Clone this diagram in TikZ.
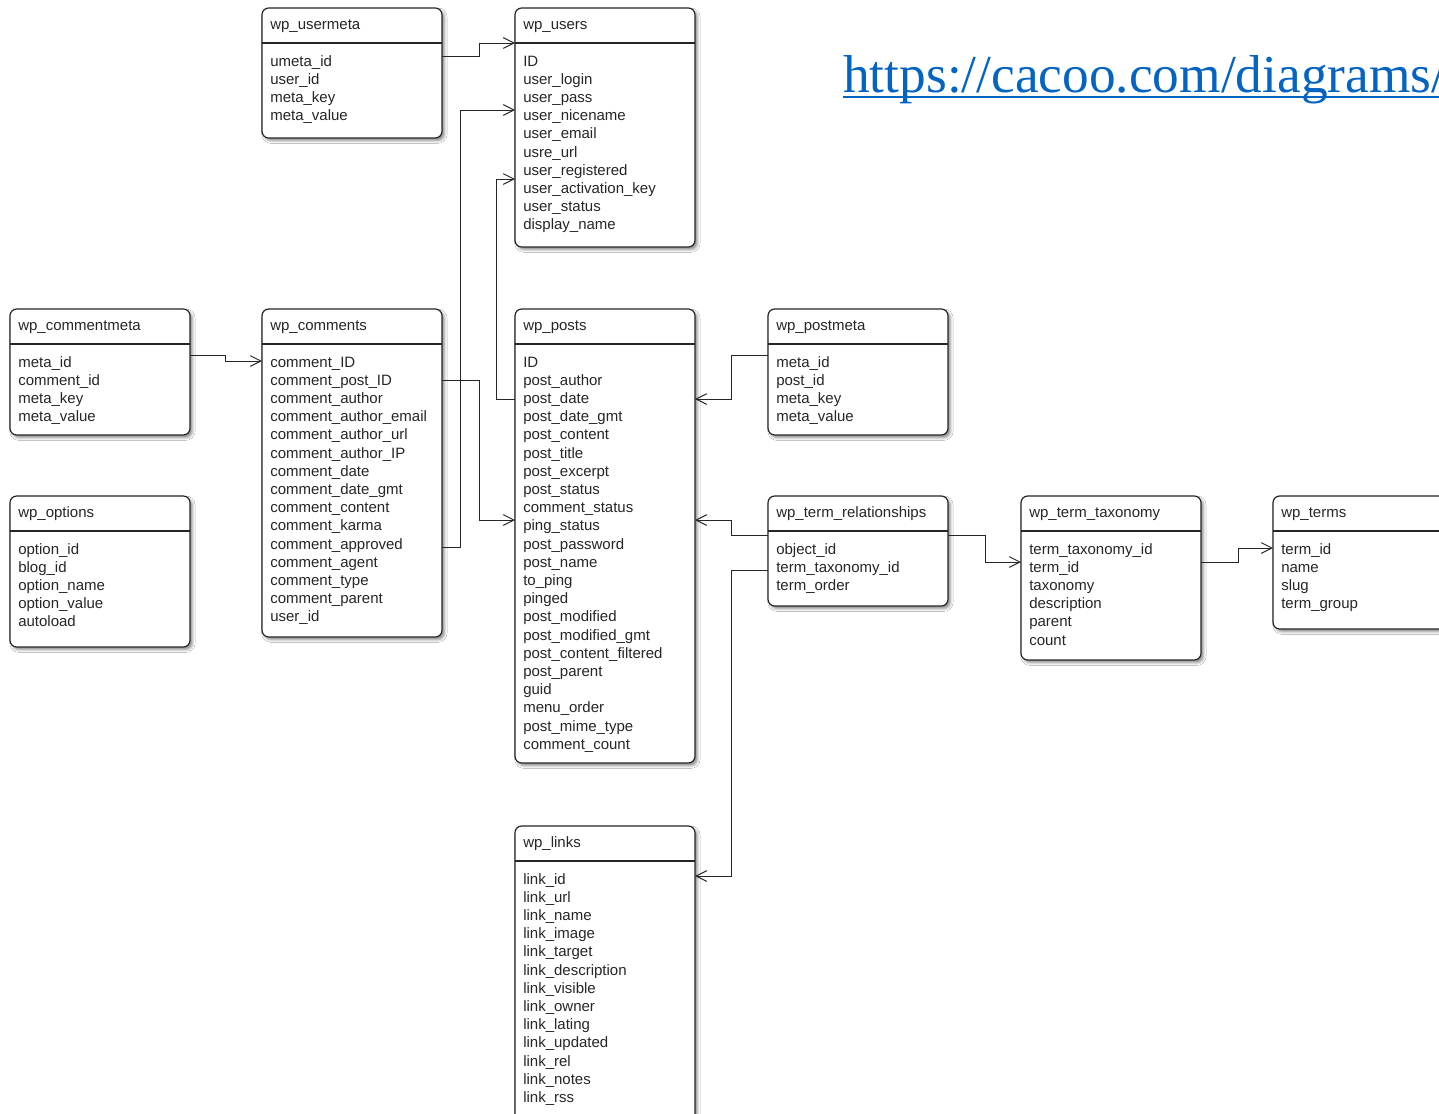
\documentclass[tikz,border=0pt]{standalone}
\usepackage{fontspec}
\setmainfont{Liberation Sans}
\newfontfamily\urlfont{Liberation Serif}
\usetikzlibrary{arrows.meta,shadows.blur}

\definecolor{linkblue}{RGB}{5,99,193}
\newcommand{\tblfont}{\fontsize{11.25pt}{13.65pt}\selectfont}

\tikzset{
  tbl/.style={draw=black!85, line width=0.9pt, rounded corners=5pt, fill=white,
    minimum width=135pt, anchor=north west, inner sep=0pt, outer sep=0pt,
    blur shadow={shadow xshift=1.8pt, shadow yshift=-2pt, shadow blur radius=2pt, shadow opacity=45}},
  tblline/.style={draw=black!85, line width=0.9pt},
  ttl/.style={anchor=base west, inner sep=0pt, font=\tblfont, text=black!85},
  field/.style={anchor=base west, inner sep=0pt, font=\tblfont, text=black!85},
  fk/.style={draw=black!85, line width=0.75pt, -{Straight Barb[length=8pt,width=8pt]}},
}

% name, x, y, height, title, fields
\newcommand{\dbtable}[6]{%
  \node[tbl, minimum height={#4*0.75pt}] (#1) at (#2,#3) {};
  \draw[tblline] (#1.west |- 0,{#3+35}) -- (#1.east |- 0,{#3+35});
  \node[ttl] (#1-title) at ({#2+8},{#3+21.5}) {#5};
  \foreach \f [count=\i] in {#6}
    \node[field] (#1-\i) at ({#2+8},{#3+58+18.2*(\i-1)}) {\f};
}

\begin{document}
\begin{tikzpicture}[x=0.75pt, y=-0.75pt]

\fill[white] (0,0) rectangle (1439,1114);
\useasboundingbox (0,0) rectangle (1439,1114);

% tables
\dbtable{usermeta}{262}{8}{130}{wp\_usermeta}{umeta\_id, user\_id, meta\_key, meta\_value}
\dbtable{users}{515}{8}{239}{wp\_users}{ID, user\_login, user\_pass, user\_nicename, user\_email, usre\_url, user\_registered, user\_activation\_key, user\_status, display\_name}
\dbtable{commentmeta}{10}{309}{126}{wp\_commentmeta}{meta\_id, comment\_id, meta\_key, meta\_value}
\dbtable{comments}{262}{309}{328}{wp\_comments}{comment\_ID, comment\_post\_ID, comment\_author, comment\_author\_email, comment\_author\_url, comment\_author\_IP, comment\_date, comment\_date\_gmt, comment\_content, comment\_karma, comment\_approved, comment\_agent, comment\_type, comment\_parent, user\_id}
\dbtable{posts}{515}{309}{454}{wp\_posts}{ID, post\_author, post\_date, post\_date\_gmt, post\_content, post\_title, post\_excerpt, post\_status, comment\_status, ping\_status, post\_password, post\_name, to\_ping, pinged, post\_modified, post\_modified\_gmt, post\_content\_filtered, post\_parent, guid, menu\_order, post\_mime\_type, comment\_count}
\dbtable{postmeta}{768}{309}{126}{wp\_postmeta}{meta\_id, post\_id, meta\_key, meta\_value}
\dbtable{options}{10}{496}{151}{wp\_options}{option\_id, blog\_id, option\_name, option\_value, autoload}
\dbtable{termrel}{768}{496}{110}{wp\_term\_relationships}{object\_id, term\_taxonomy\_id, term\_order}
\dbtable{termtax}{1021}{496}{164}{wp\_term\_taxonomy}{term\_taxonomy\_id, term\_id, taxonomy, description, parent, count}
\dbtable{terms}{1273}{496}{133}{wp\_terms}{term\_id, name, slug, term\_group}
\dbtable{links}{515}{826}{300}{wp\_links}{link\_id, link\_url, link\_name, link\_image, link\_target, link\_description, link\_visible, link\_owner, link\_lating, link\_updated, link\_rel, link\_notes, link\_rss}

% relations
\draw[fk] (usermeta.east |- 0,56) -- ++(37,0) |- (users.west |- 0,43);
\draw[fk] (comments.east |- 0,547) -- ++(18.5,0) |- (users.west |- 0,110);
\draw[fk] (posts.west |- 0,399) -- ++(-19,0) |- (users.west |- 0,179);
\draw[fk] (commentmeta.east |- 0,355) -- ++(35,0) |- (comments.west |- 0,361);
\draw[fk] (comments.east |- 0,380) -- ++(37,0) |- (posts.west |- 0,520);
\draw[fk] (postmeta.west |- 0,355) -- ++(-37,0) |- (posts.east |- 0,399);
\draw[fk] (termrel.west |- 0,535) -- ++(-37,0) |- (posts.east |- 0,520);
\draw[fk] (termrel.west |- 0,570) -- ++(-37,0) |- (links.east |- 0,876);
\draw[fk] (termrel.east |- 0,535) -- ++(37,0) |- (termtax.west |- 0,562);
\draw[fk] (termtax.east |- 0,562) -- ++(37,0) |- (terms.west |- 0,548);

% source link
\node[anchor=base west, inner sep=0pt, text=linkblue, font=\urlfont\fontsize{40pt}{48pt}\selectfont] (url) at (843,92) {https://cacoo.com/diagrams/};
\draw[linkblue, line width=1.5pt] ([yshift=-3.5pt]url.base west) -- ([yshift=-3.5pt]url.base east);

\end{tikzpicture}
\end{document}
